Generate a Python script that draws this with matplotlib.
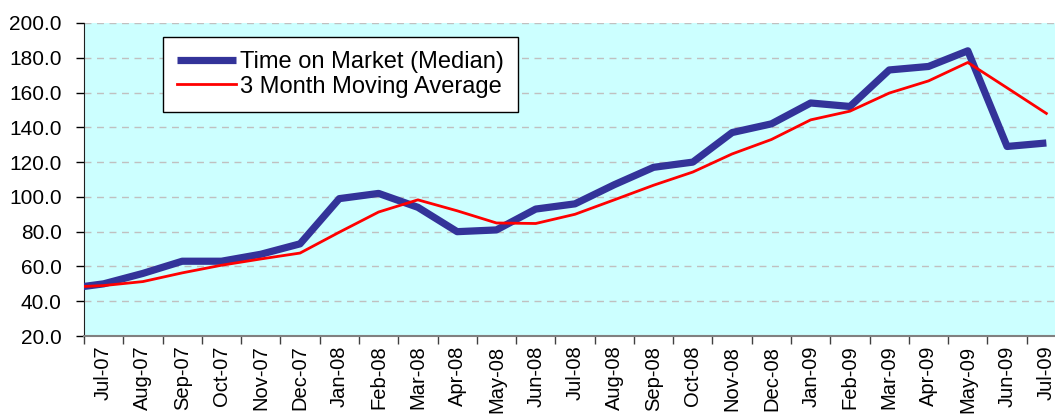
import numpy as np
import matplotlib
matplotlib.use("Agg")
import matplotlib.pyplot as plt

plt.rcParams['font.family'] = ['Liberation Sans', 'DejaVu Sans']

# months shown on the axis; the line begins one month earlier (Jun-07), clipped at the axis
months = ["Jul-07", "Aug-07", "Sep-07", "Oct-07", "Nov-07", "Dec-07",
          "Jan-08", "Feb-08", "Mar-08", "Apr-08", "May-08", "Jun-08",
          "Jul-08", "Aug-08", "Sep-08", "Oct-08", "Nov-08", "Dec-08",
          "Jan-09", "Feb-09", "Mar-09", "Apr-09", "May-09", "Jun-09", "Jul-09"]

median_dom = [47, 50, 56, 63, 63, 67, 73, 99, 102, 94, 80, 81, 93, 96,
              107, 117, 120, 137, 142, 154, 152, 173, 175, 184, 129, 131]
moving_avg = [48, 49, 51.3, 56.3, 60.7, 64.3, 67.7, 79.7, 91.3, 98.3, 92.0, 85.0,
              84.7, 90.0, 98.3, 106.7, 114.3, 124.7, 133.0, 144.3, 149.3,
              159.7, 166.7, 177.3, 162.7, 148.0]

x = np.arange(len(median_dom)) - 1

fig = plt.figure(figsize=(10.55, 4.18), dpi=100)
ax = fig.add_axes([84 / 1055, 82 / 418, 982 / 1055, 313 / 418])
ax.set_facecolor("#CCFFFF")

ax.plot(x, median_dom, color="#333399", linewidth=5.2,
        solid_capstyle="butt", label="Time on Market (Median)", zorder=3)
ax.plot(x, moving_avg, color="#FF0000", linewidth=2.0,
        label="3 Month Moving Average", zorder=4)

ax.set_xlim(-0.5, len(months) - 0.5)
ax.set_ylim(20, 200)
ax.set_yticks(np.arange(20, 201, 20))
ax.set_yticklabels([f"{v:.1f}" for v in np.arange(20, 201, 20)], fontsize=15)
ax.yaxis.grid(True, color="#C0C0C0", linestyle=(0, (5, 4)), linewidth=1)
ax.set_axisbelow(True)

ax.set_xticks(np.arange(len(months)))
ax.set_xticklabels(months, rotation=90, fontsize=14.5)
ax.set_xticks(np.arange(len(months) + 1) - 0.5, minor=True)
ax.tick_params(axis="x", which="major", length=0, pad=7)
ax.tick_params(axis="x", which="minor", length=6, width=1, color="#404040")
ax.tick_params(axis="y", length=6, width=1, pad=10)

for side in ["top", "right"]:
    ax.spines[side].set_visible(False)
ax.spines["left"].set_color("#202020")
ax.spines["bottom"].set_color("#808080")
ax.spines["bottom"].set_linewidth(1.5)

leg = ax.legend(loc="upper left", bbox_to_anchor=(0.0804, 0.955), fontsize=17,
                frameon=True, fancybox=False, handlelength=2.5, handletextpad=0.15,
                borderpad=0.6, labelspacing=0.1, borderaxespad=0)
leg.get_frame().set_edgecolor("black")
leg.get_frame().set_linewidth(1)
leg.get_frame().set_facecolor("white")
leg.get_frame().set_alpha(1)

fig.savefig("out.png", dpi=100)
